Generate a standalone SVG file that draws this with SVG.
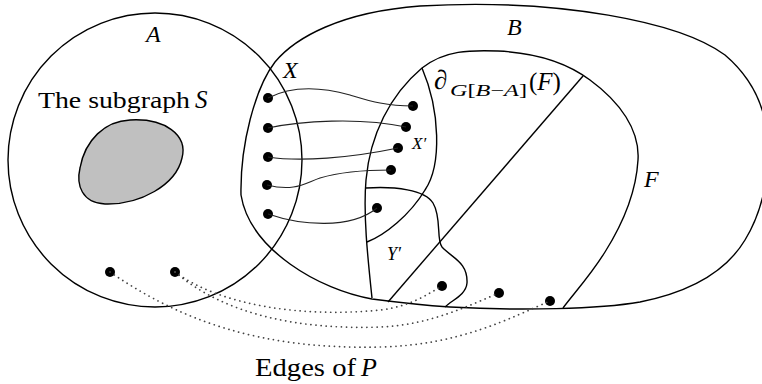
<svg xmlns="http://www.w3.org/2000/svg" width="762" height="384" viewBox="0 0 762 384">
<style>
.ln{fill:none;stroke:#000;stroke-width:1.4}
.ed{fill:none;stroke:#222;stroke-width:1.1}
.dt{fill:none;stroke:#444;stroke-width:1.7;stroke-dasharray:0.1 5;stroke-linecap:round}
.dot{fill:#000}
.t{font-family:"Liberation Serif","Times New Roman",serif;fill:#000}
.i{font-style:italic}
</style>
<rect width="762" height="384" fill="#fff"/>
<g id="regionA">
<circle class="ln" cx="155" cy="160" r="147"/>
<text class="t i" x="146" y="42" font-size="24">A</text>
</g>
<g id="subgraphS">
<path d="M 130 120 C 165 118, 188 135, 182 158 C 176 185, 140 205, 105 204 C 82 203, 76 185, 80 168 C 85 140, 105 121, 130 120 Z" fill="#c0c0c0" stroke="#000" stroke-width="1.4"/>
<text class="t" x="38" y="108" font-size="24" textLength="152" lengthAdjust="spacingAndGlyphs">The subgraph</text>
<text class="t i" x="195" y="108" font-size="25">S</text>
</g>
<g id="regionB">
<path class="ln" d="M 241 195 C 240 145, 255 88, 275 62 C 295 38, 340 12, 420 6 C 560 -2, 680 22, 725 55 C 752 78, 768 110, 768 150 C 768 180, 762 212, 745 240 C 730 265, 700 290, 640 302 C 600 309, 520 311, 450 307 C 420 305, 395 302, 372 299 C 320 290, 250 250, 241 195 Z"/>
<text class="t i" x="507" y="35" font-size="24">B</text>
</g>
<g id="regionX">
<text class="t i" x="283" y="78" font-size="24">X</text>
<circle class="dot" cx="268" cy="98" r="5"/>
<circle class="dot" cx="268" cy="128" r="5"/>
<circle class="dot" cx="268" cy="157" r="5"/>
<circle class="dot" cx="267" cy="185" r="5"/>
<circle class="dot" cx="268" cy="214" r="5"/>
</g>
<g id="regionF">
<path class="ln" d="M 372 298 C 368 260, 363 215, 366 180 C 370 135, 390 95, 422 68 C 445 50, 470 50, 498 51 C 540 53, 570 65, 590 80 C 620 102, 640 130, 638 160 C 636 195, 622 225, 605 252 C 590 276, 575 292, 563 308"/>
<path class="ln" d="M 583 76 L 388 302"/>
<text class="t i" x="644" y="187" font-size="24">F</text>
<text class="t" x="434" y="89" font-size="27">∂</text>
<text class="t" x="450" y="96" font-size="16" textLength="77" lengthAdjust="spacingAndGlyphs"><tspan class="i">G</tspan>[<tspan class="i">B</tspan>−<tspan class="i">A</tspan>]</text>
<text class="t" x="529" y="90" font-size="25">(<tspan class="i">F</tspan>)</text>
</g>
<g id="regionXprime">
<path class="ln" d="M 422 68 C 440 110, 442 165, 425 190 C 410 215, 385 235, 367 242"/>
<text class="t i" x="412" y="149" font-size="17">X′</text>
<circle class="dot" cx="413" cy="106" r="5"/>
<circle class="dot" cx="406" cy="127" r="5"/>
<circle class="dot" cx="398" cy="148" r="5"/>
<circle class="dot" cx="391" cy="170" r="5"/>
<circle class="dot" cx="377" cy="208" r="5"/>
</g>
<g id="regionYprime">
<path class="ln" d="M 366 188 C 395 186, 425 190, 433 203 C 442 218, 436 240, 442 247 C 452 258, 468 262, 467 283 C 466 295, 452 300, 445 307"/>
<text class="t i" x="387" y="260" font-size="18">Y′</text>
</g>
<g id="pDots">
<circle class="dot" cx="110" cy="272" r="5"/>
<circle class="dot" cx="175" cy="272" r="5"/>
<circle class="dot" cx="442" cy="286" r="5"/>
<circle class="dot" cx="499" cy="293" r="5"/>
<circle class="dot" cx="550" cy="301" r="5"/>
<text class="t" x="255" y="376" font-size="25" textLength="101" lengthAdjust="spacingAndGlyphs">Edges of</text>
<text class="t i" x="361" y="376" font-size="26">P</text>
</g>
<g id="connectors">
<path class="ed" d="M 268 98 C 295 84, 325 88, 350 95 C 370 101, 385 106, 413 106"/>
<path class="ed" d="M 268 128 C 300 121, 360 117, 406 127"/>
<path class="ed" d="M 268 157 C 300 162, 350 158, 398 148"/>
<path class="ed" d="M 267 185 C 295 192, 305 183, 320 178 C 340 172, 360 170, 391 170"/>
<path class="ed" d="M 268 214 C 300 225, 350 230, 377 208"/>
<path class="dt" d="M 110 272 C 180 320, 260 350, 381 347 C 460 345, 510 318, 550 301"/>
<path class="dt" d="M 175 272 C 220 305, 300 318, 381 310 C 410 306, 425 296, 442 286"/>
<path class="dt" d="M 175 272 C 225 315, 300 330, 381 327 C 430 325, 470 305, 499 293"/>
</g>
</svg>
